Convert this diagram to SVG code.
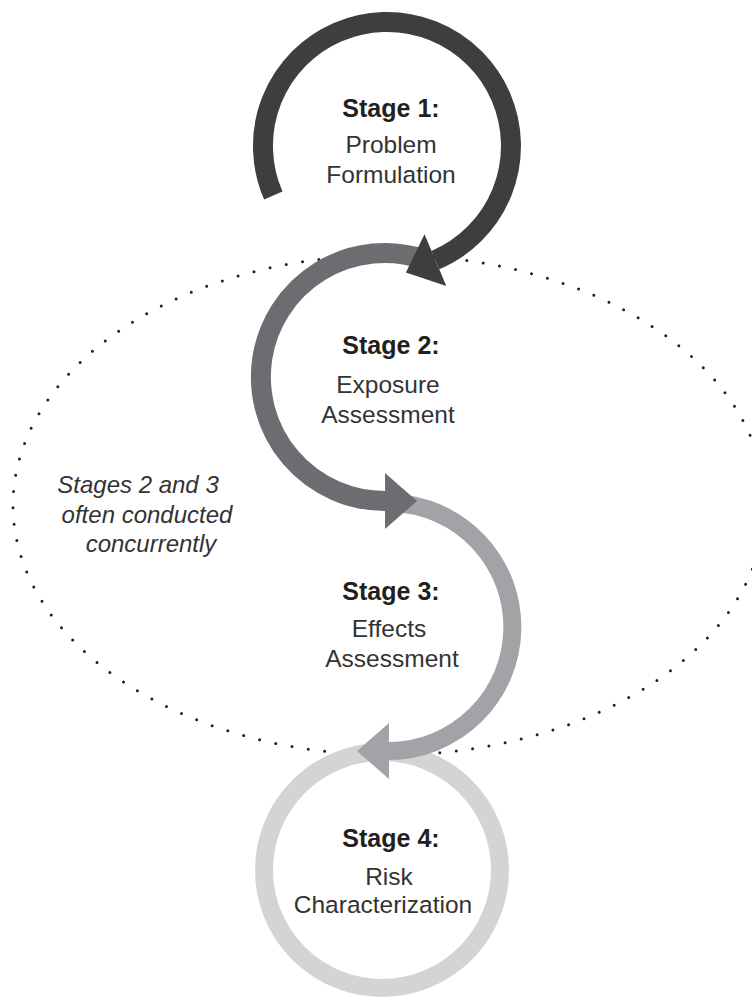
<svg xmlns="http://www.w3.org/2000/svg" width="752" height="1007" viewBox="0 0 752 1007">
<style>
.t{font-family:"Liberation Sans",Arial,sans-serif;fill:#231f20;text-anchor:middle}
.b{font-size:25px;font-weight:bold}
.r{font-size:24.5px;fill:#333333}
.i{font-size:24px;font-style:italic;fill:#333333}
.ring{fill:none;stroke-linecap:butt}
</style>
<rect width="752" height="1007" fill="#ffffff"/>
<g id="group-ellipse">
<ellipse cx="389" cy="505" rx="376" ry="250" fill="none" stroke="#231f20" stroke-width="3" stroke-linecap="round" stroke-dasharray="0 16.5"/>
</g>
<g id="connectors">
<circle id="ring4" cx="382" cy="870" r="118" class="ring" stroke="#d3d4d6" stroke-width="18"/>
<path id="ring3" d="M393.3 503.1 A124 124 0 0 1 389 751" class="ring" stroke="#a2a3a6" stroke-width="18"/>
<polygon id="arrow3" points="357,751 389,723 389,779" fill="#a2a3a6"/>
<path id="ring2" d="M423.3 259.1 A124 124 0 1 0 385 501" class="ring" stroke="#6c6d70" stroke-width="20"/>
<polygon id="arrow2" points="417,501 385,473 385,529" fill="#6c6d70"/>
<path id="ring1" d="M273.3 195.5 A124 124 0 1 1 435.4 260.1" class="ring" stroke="#3e3e3f" stroke-width="20"/>
<polygon id="arrow1" points="405.9,272.6 424.5,234.3 446.3,285.9" fill="#3e3e3f"/>
</g>
<g id="stage1">
<text class="t b" x="391" y="117">Stage 1:</text>
<text class="t r" x="391" y="153">Problem</text>
<text class="t r" x="391" y="183">Formulation</text>
</g>
<g id="stage2">
<text class="t b" x="391" y="354">Stage 2:</text>
<text class="t r" x="388" y="393">Exposure</text>
<text class="t r" x="388" y="423">Assessment</text>
</g>
<g id="stage3">
<text class="t b" x="391" y="600">Stage 3:</text>
<text class="t r" x="389" y="637">Effects</text>
<text class="t r" x="392" y="667">Assessment</text>
</g>
<g id="stage4">
<text class="t b" x="391" y="847">Stage 4:</text>
<text class="t r" x="389" y="885">Risk</text>
<text class="t r" x="383" y="913">Characterization</text>
</g>
<g id="note">
<text class="t i" x="138" y="493">Stages 2 and 3</text>
<text class="t i" x="147" y="523">often conducted</text>
<text class="t i" x="151" y="552">concurrently</text>
</g>
</svg>
